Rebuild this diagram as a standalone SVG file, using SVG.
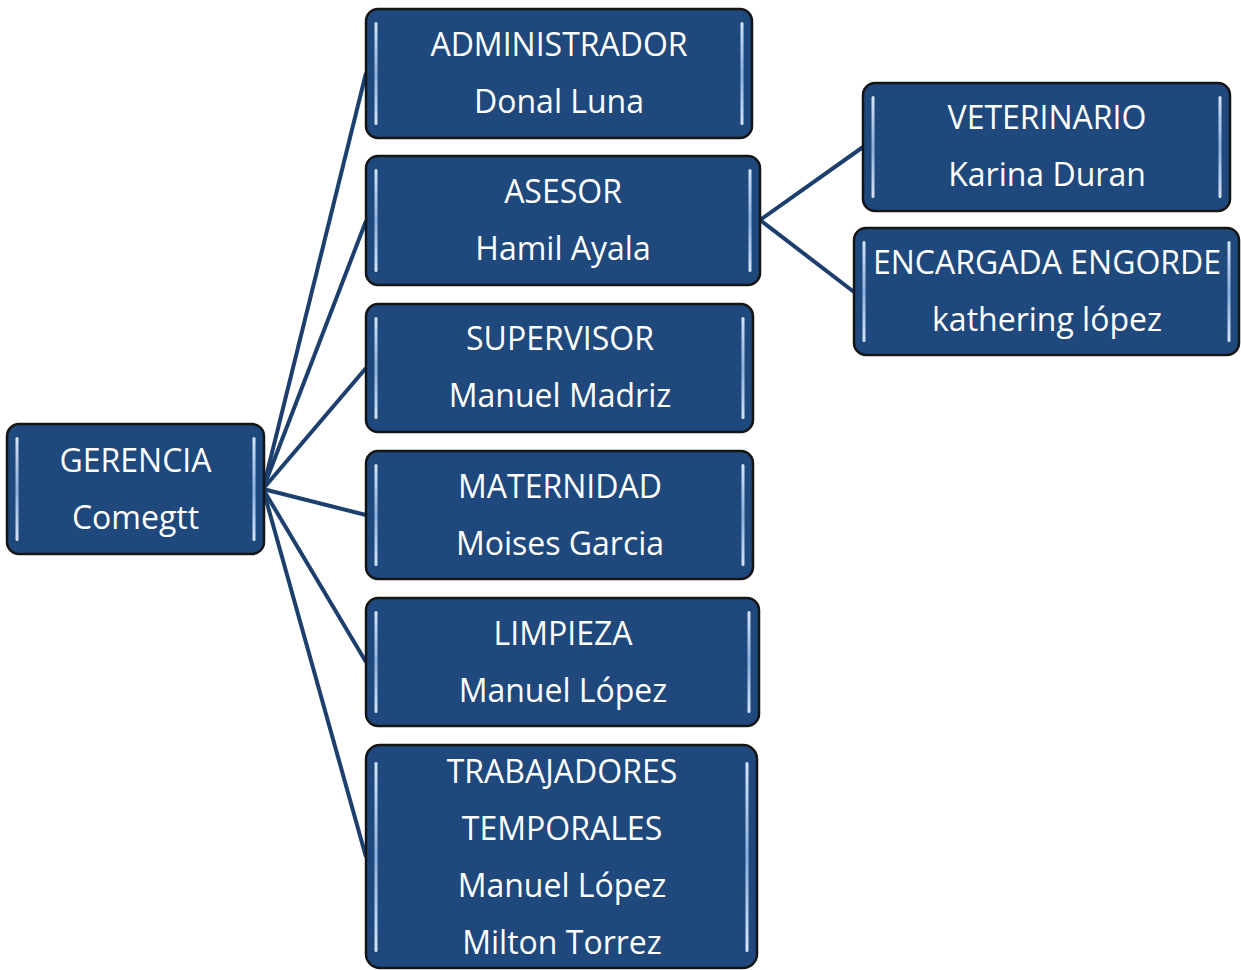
<svg xmlns="http://www.w3.org/2000/svg" width="1241" height="970" viewBox="0 0 1241 970">
<defs>
<linearGradient id="hl" x1="0" y1="0" x2="0" y2="1">
<stop offset="0" stop-color="#d4e3f7"/>
<stop offset="0.5" stop-color="#8db0de"/>
<stop offset="1" stop-color="#d4e3f7"/>
</linearGradient>
<style>
.box{fill:#1f487c;stroke:#151515;stroke-width:2.5}
.hl{fill:url(#hl)}
.t{font-family:"Open Sans","Noto Sans",sans-serif;font-size:32px;fill:#ffffff;text-anchor:middle}
.c{stroke:#1c3f6e;stroke-width:4;fill:none}
</style>
</defs>
<g id="connectors">
<line class="c" x1="263" y1="489" x2="366" y2="73"/>
<line class="c" x1="263" y1="489" x2="366" y2="221"/>
<line class="c" x1="263" y1="489" x2="366" y2="368"/>
<line class="c" x1="263" y1="489" x2="366" y2="515"/>
<line class="c" x1="263" y1="489" x2="366" y2="662"/>
<line class="c" x1="263" y1="489" x2="366" y2="857"/>
<line class="c" x1="760" y1="220" x2="863" y2="147"/>
<line class="c" x1="760" y1="220" x2="854" y2="292"/>
</g>
<g id="gerencia">
<rect class="box" x="7" y="424" width="257" height="130" rx="12"/>
<rect class="hl" x="15.5" y="437" width="3" height="104" rx="1.5"/>
<rect class="hl" x="252.5" y="437" width="3" height="104" rx="1.5"/>
<text class="t" x="135.5" y="472">GERENCIA</text>
<text class="t" x="135.5" y="529">Comegtt</text>
</g>
<g id="administrador">
<rect class="box" x="366" y="9" width="386" height="129" rx="12"/>
<rect class="hl" x="374.5" y="22" width="3" height="103" rx="1.5"/>
<rect class="hl" x="740.5" y="22" width="3" height="103" rx="1.5"/>
<text class="t" x="559" y="56">ADMINISTRADOR</text>
<text class="t" x="559" y="113">Donal Luna</text>
</g>
<g id="asesor">
<rect class="box" x="366" y="156" width="394" height="129" rx="12"/>
<rect class="hl" x="374.5" y="169" width="3" height="103" rx="1.5"/>
<rect class="hl" x="748.5" y="169" width="3" height="103" rx="1.5"/>
<text class="t" x="563" y="203">ASESOR</text>
<text class="t" x="563" y="260">Hamil Ayala</text>
</g>
<g id="supervisor">
<rect class="box" x="366" y="304" width="387" height="128" rx="12"/>
<rect class="hl" x="374.5" y="317" width="3" height="102" rx="1.5"/>
<rect class="hl" x="741.5" y="317" width="3" height="102" rx="1.5"/>
<text class="t" x="560" y="350">SUPERVISOR</text>
<text class="t" x="560" y="407">Manuel Madriz</text>
</g>
<g id="maternidad">
<rect class="box" x="366" y="451" width="387" height="128" rx="12"/>
<rect class="hl" x="374.5" y="464" width="3" height="102" rx="1.5"/>
<rect class="hl" x="741.5" y="464" width="3" height="102" rx="1.5"/>
<text class="t" x="560" y="498">MATERNIDAD</text>
<text class="t" x="560" y="555">Moises Garcia</text>
</g>
<g id="limpieza">
<rect class="box" x="366" y="598" width="393" height="128" rx="12"/>
<rect class="hl" x="374.5" y="611" width="3" height="102" rx="1.5"/>
<rect class="hl" x="747.5" y="611" width="3" height="102" rx="1.5"/>
<text class="t" x="563" y="645">LIMPIEZA</text>
<text class="t" x="563" y="702">Manuel López</text>
</g>
<g id="trabajadores">
<rect class="box" x="366" y="745" width="391" height="223" rx="14"/>
<rect class="hl" x="374.5" y="762" width="3" height="190" rx="1.5"/>
<rect class="hl" x="745.5" y="762" width="3" height="190" rx="1.5"/>
<text class="t" x="562" y="783">TRABAJADORES</text>
<text class="t" x="562" y="840">TEMPORALES</text>
<text class="t" x="562" y="897">Manuel López</text>
<text class="t" x="562" y="954">Milton Torrez</text>
</g>
<g id="veterinario">
<rect class="box" x="863" y="83" width="367" height="128" rx="12"/>
<rect class="hl" x="871.5" y="96" width="3" height="102" rx="1.5"/>
<rect class="hl" x="1218.5" y="96" width="3" height="102" rx="1.5"/>
<text class="t" x="1047" y="129">VETERINARIO</text>
<text class="t" x="1047" y="186">Karina Duran</text>
</g>
<g id="encargada">
<rect class="box" x="854" y="228" width="385" height="127" rx="12"/>
<rect class="hl" x="862.5" y="241" width="3" height="101" rx="1.5"/>
<rect class="hl" x="1227.5" y="241" width="3" height="101" rx="1.5"/>
<text class="t" x="1047" y="274">ENCARGADA ENGORDE</text>
<text class="t" x="1047" y="331">kathering lópez</text>
</g>
</svg>
